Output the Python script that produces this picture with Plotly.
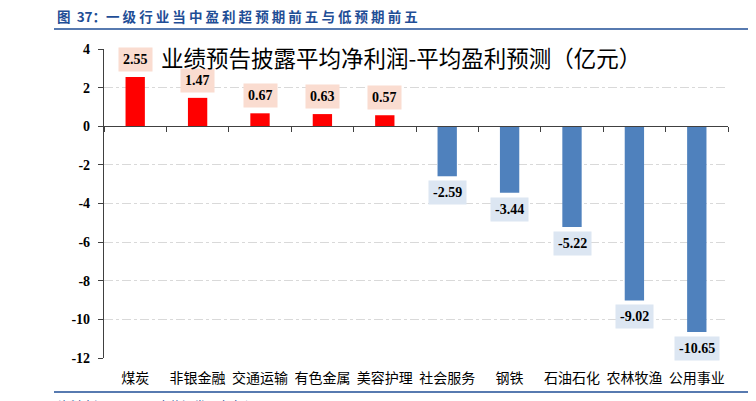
import plotly.graph_objects as go

# 行业 与 差值（亿元）
industries = ["煤炭", "非银金融", "交通运输", "有色金属", "美容护理",
              "社会服务", "钢铁", "石油石化", "农林牧渔", "公用事业"]
diff = [2.55, 1.47, 0.67, 0.63, 0.57, -2.59, -3.44, -5.22, -9.02, -10.65]
ytick_vals = [4, 2, 0, -2, -4, -6, -8, -10, -12]

bar_colors = ["#ff0000" if v > 0 else "#4f81bd" for v in diff]

# page body adds 8px; plot area in figure pixels
L, T, PW, PH = 96, 41, 624, 309

fig = go.Figure()
fig.add_trace(go.Bar(
    x=industries, y=diff, marker_color=bar_colors, marker_line_width=0,
    width=0.31, showlegend=False, hoverinfo="skip",
))
# invisible copy so the zero-line axis (ticks between categories) gets drawn
fig.add_trace(go.Scatter(
    x=industries, y=[0] * len(industries), xaxis="x2", mode="lines",
    line=dict(width=0), showlegend=False, hoverinfo="skip",
))

# value labels
for name, v in zip(industries, diff):
    fig.add_annotation(
        x=name, y=v, text="<b>%.2f</b>" % v, showarrow=False,
        yanchor="bottom" if v > 0 else "top",
        yshift=5 if v > 0 else -4,
        bgcolor="#fadcd0" if v > 0 else "#dce6f2",
        borderpad=4,
        font=dict(family="Liberation Serif", size=14, color="black"),
    )

ymin, ymax = -12, 4
fig.update_layout(
    width=756, height=401,
    margin=dict(l=L, r=756 - L - PW, t=T, b=401 - T - PH),
    paper_bgcolor="white", plot_bgcolor="white",
    xaxis=dict(
        type="category", showline=False, showgrid=False, ticks="",
        zeroline=False, range=[-0.5, 9.5], ticklabelstandoff=10,
        tickfont=dict(family="Noto Sans CJK SC", size=14, color="black"),
    ),
    xaxis2=dict(
        type="category", overlaying="x", anchor="free",
        position=(0 - ymin) / (ymax - ymin), range=[-0.5, 9.5],
        showline=True, linecolor="#404040", linewidth=1.2,
        ticks="outside", tickson="boundaries", ticklen=5, tickcolor="#404040",
        showticklabels=False, showgrid=False, zeroline=False,
    ),
    yaxis=dict(
        range=[ymin, ymax], tickvals=ytick_vals,
        ticktext=["<b>%d</b>" % t for t in ytick_vals],
        showline=True, linecolor="#404040", linewidth=1.2,
        ticks="outside", ticklen=5, tickcolor="#404040",
        ticklabelstandoff=5,
        showgrid=True, gridcolor="#d9d9d9", griddash="dashdot", gridwidth=1,
        zeroline=False,
        tickfont=dict(family="Liberation Serif", size=14, color="black"),
    ),
)

# chart title inside the plot
fig.add_annotation(
    text="业绩预告披露平均净利润-平均盈利预测（亿元）",
    xref="paper", yref="paper", x=(393 - L) / PW, y=1 - (49 - T) / PH,
    xanchor="center", yanchor="middle", showarrow=False,
    font=dict(family="Noto Sans CJK SC", size=22.5, color="black"),
)
# report header
fig.add_annotation(
    text="<b>图 &nbsp;37：一 级 行 业 当 中 盈 利 超 预 期 前 五 与 低 预 期 前 五</b>",
    xref="paper", yref="paper", x=(47 - L) / PW, y=1 + (T - 8) / PH,
    xanchor="left", yanchor="middle", showarrow=False,
    font=dict(family="Noto Sans CJK SC", size=13.5, color="#1f4e96"),
)
# footer (cut off by the page edge)
fig.add_annotation(
    text="资料来源：wind，安信证券研究中心",
    xref="paper", yref="paper", x=(48 - L) / PW, y=-(387 - T - PH) / PH,
    xanchor="left", yanchor="top", showarrow=False,
    font=dict(family="Noto Sans CJK SC", size=12, color="#1f4e96"),
)
# header / footer rules
fig.add_shape(type="line", xref="paper", yref="paper",
              x0=(46 - L) / PW, x1=(742 - L) / PW,
              y0=1 + (T - 21) / PH, y1=1 + (T - 21) / PH,
              line=dict(color="#1f4e96", width=1.5))
fig.add_shape(type="line", xref="paper", yref="paper",
              x0=(46 - L) / PW, x1=(756 - L) / PW,
              y0=-(384 - T - PH) / PH, y1=-(384 - T - PH) / PH,
              line=dict(color="#1f4e96", width=1.5))

fig.write_html("out.html")
